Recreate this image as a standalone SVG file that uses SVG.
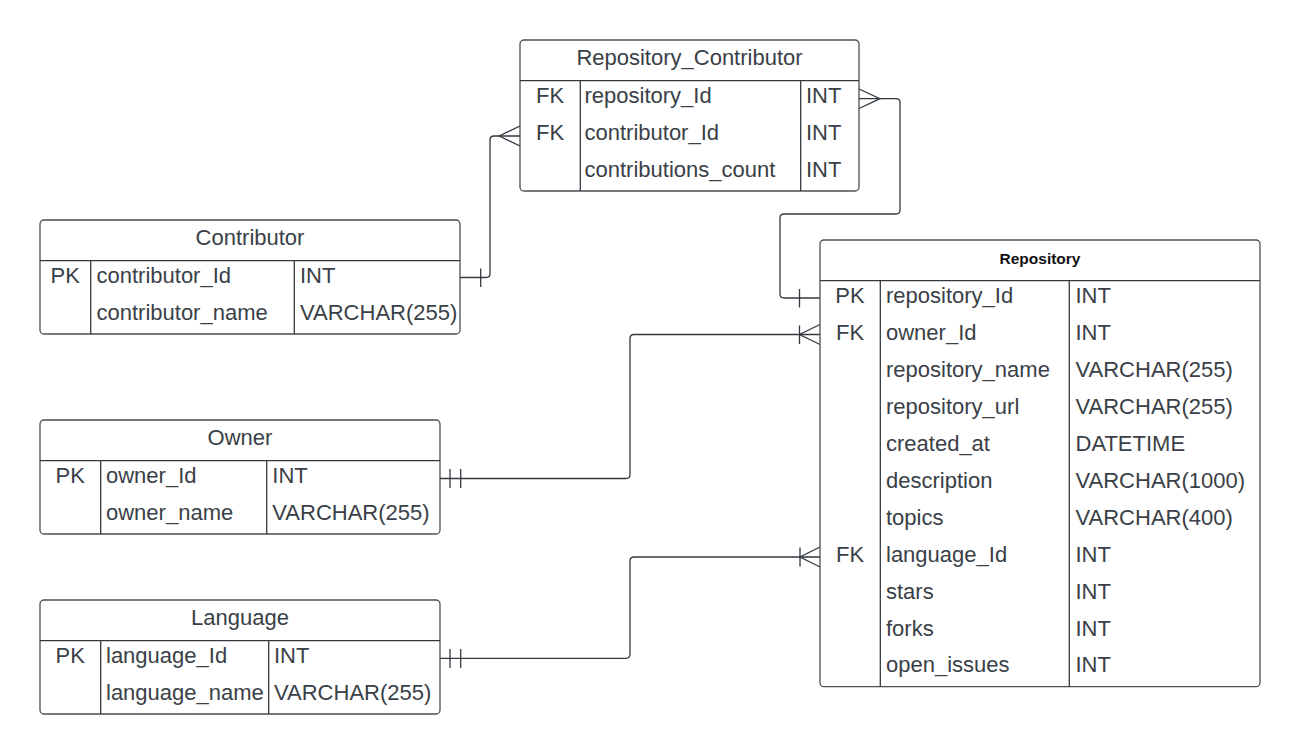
<svg xmlns="http://www.w3.org/2000/svg" width="1300" height="754" viewBox="0 0 1300 754">
<style>
.box{fill:#ffffff;stroke:#4a4f56;stroke-width:1.3}
.div{stroke:#343940;stroke-width:1.3;fill:none}
.t{font-family:"Liberation Sans",Arial,sans-serif;font-size:22px;fill:#3a4047}
.h{font-family:"Liberation Sans",Arial,sans-serif;font-size:22px;fill:#3a4047;text-anchor:middle}
.hb{font-family:"Liberation Sans",Arial,sans-serif;font-size:15.5px;font-weight:bold;fill:#111;text-anchor:middle}
.k{text-anchor:middle}
.ln{stroke:#343940;stroke-width:1.3;fill:none}
</style>
<rect width="1300" height="754" fill="#ffffff"/>

<g id="connectors">
  <!-- Contributor to Repository_Contributor -->
  <path class="ln" d="M460,277.5 H486 Q490,277.5 490,273.5 V140 Q490,136 494,136 H520"/>
  <path class="ln" d="M480.7,268.5 V287"/>
  <path class="ln" d="M520,126 L499.3,136 L520,146"/>
  <!-- Repository_Contributor to Repository -->
  <path class="ln" d="M859,98.7 H896 Q900,98.7 900,102.7 V210 Q900,214 896,214 H784 Q780,214 780,218 V294 Q780,298 784,298 H820"/>
  <path class="ln" d="M859,89 L880,98.7 L859,108.5"/>
  <path class="ln" d="M799.5,289 V307.5"/>
  <!-- Owner to Repository -->
  <path class="ln" d="M440,478.5 H626 Q630,478.5 630,474.5 V338.5 Q630,334.5 634,334.5 H820"/>
  <path class="ln" d="M450,469 V488 M460.7,469 V488"/>
  <path class="ln" d="M820,324.5 L799.5,334.5 L820,344.5 M799.5,325.5 V344"/>
  <!-- Language to Repository -->
  <path class="ln" d="M440,658.3 H626 Q630,658.3 630,654.3 V561 Q630,557 634,557 H820"/>
  <path class="ln" d="M450,649 V668 M460.7,649 V668"/>
  <path class="ln" d="M820,547 L800,557 L820,567 M800,547.5 V566.5"/>
</g>

<g id="repository_contributor">
  <rect class="box" x="520" y="40" width="339" height="151" rx="4"/>
  <path class="div" d="M520,80.7 H859 M580.3,80.7 V191 M800.7,80.7 V191"/>
  <text class="h" x="689.5" y="65">Repository_Contributor</text>
  <text class="t k" x="550" y="103.3">FK</text>
  <text class="t" x="584.5" y="103.3">repository_Id</text>
  <text class="t" x="806" y="103.3">INT</text>
  <text class="t k" x="550" y="140.1">FK</text>
  <text class="t" x="584.5" y="140.1">contributor_Id</text>
  <text class="t" x="806" y="140.1">INT</text>
  <text class="t" x="584.5" y="176.9">contributions_count</text>
  <text class="t" x="806" y="176.9">INT</text>
</g>

<g id="contributor">
  <rect class="box" x="40" y="220" width="420" height="114" rx="4"/>
  <path class="div" d="M40,260.7 H460 M90.7,260.7 V334 M294.3,260.7 V334"/>
  <text class="h" x="250" y="245">Contributor</text>
  <text class="t k" x="65.3" y="283.3">PK</text>
  <text class="t" x="96.5" y="283.3">contributor_Id</text>
  <text class="t" x="300" y="283.3">INT</text>
  <text class="t" x="96.5" y="320.1">contributor_name</text>
  <text class="t" x="300" y="320.1">VARCHAR(255)</text>
</g>

<g id="owner">
  <rect class="box" x="40" y="420" width="400" height="114" rx="4"/>
  <path class="div" d="M40,460.7 H440 M100.7,460.7 V534 M266.7,460.7 V534"/>
  <text class="h" x="240" y="445">Owner</text>
  <text class="t k" x="70.3" y="483.3">PK</text>
  <text class="t" x="106" y="483.3">owner_Id</text>
  <text class="t" x="272.3" y="483.3">INT</text>
  <text class="t" x="106" y="520">owner_name</text>
  <text class="t" x="272.3" y="520">VARCHAR(255)</text>
</g>

<g id="language">
  <rect class="box" x="40" y="600" width="400" height="114" rx="4"/>
  <path class="div" d="M40,640.7 H440 M100.7,640.7 V714 M268.7,640.7 V714"/>
  <text class="h" x="240" y="625">Language</text>
  <text class="t k" x="70.3" y="663.3">PK</text>
  <text class="t" x="106" y="663.3">language_Id</text>
  <text class="t" x="274" y="663.3">INT</text>
  <text class="t" x="106" y="700">language_name</text>
  <text class="t" x="274" y="700">VARCHAR(255)</text>
</g>

<g id="repository">
  <rect class="box" x="820" y="240" width="440" height="446.7" rx="4"/>
  <path class="div" d="M820,280.7 H1260 M880.3,280.7 V686.7 M1069.3,280.7 V686.7"/>
  <text class="hb" x="1040" y="264.3">Repository</text>
  <text class="t k" x="850" y="303.3">PK</text>
  <text class="t" x="886" y="303.3">repository_Id</text>
  <text class="t" x="1075.5" y="303.3">INT</text>
  <text class="t k" x="850" y="340.2">FK</text>
  <text class="t" x="886" y="340.2">owner_Id</text>
  <text class="t" x="1075.5" y="340.2">INT</text>
  <text class="t" x="886" y="377.1">repository_name</text>
  <text class="t" x="1075.5" y="377.1">VARCHAR(255)</text>
  <text class="t" x="886" y="414">repository_url</text>
  <text class="t" x="1075.5" y="414">VARCHAR(255)</text>
  <text class="t" x="886" y="450.9">created_at</text>
  <text class="t" x="1075.5" y="450.9">DATETIME</text>
  <text class="t" x="886" y="487.9">description</text>
  <text class="t" x="1075.5" y="487.9">VARCHAR(1000)</text>
  <text class="t" x="886" y="524.8">topics</text>
  <text class="t" x="1075.5" y="524.8">VARCHAR(400)</text>
  <text class="t k" x="850" y="561.7">FK</text>
  <text class="t" x="886" y="561.7">language_Id</text>
  <text class="t" x="1075.5" y="561.7">INT</text>
  <text class="t" x="886" y="598.6">stars</text>
  <text class="t" x="1075.5" y="598.6">INT</text>
  <text class="t" x="886" y="635.5">forks</text>
  <text class="t" x="1075.5" y="635.5">INT</text>
  <text class="t" x="886" y="672.4">open_issues</text>
  <text class="t" x="1075.5" y="672.4">INT</text>
</g>
</svg>
